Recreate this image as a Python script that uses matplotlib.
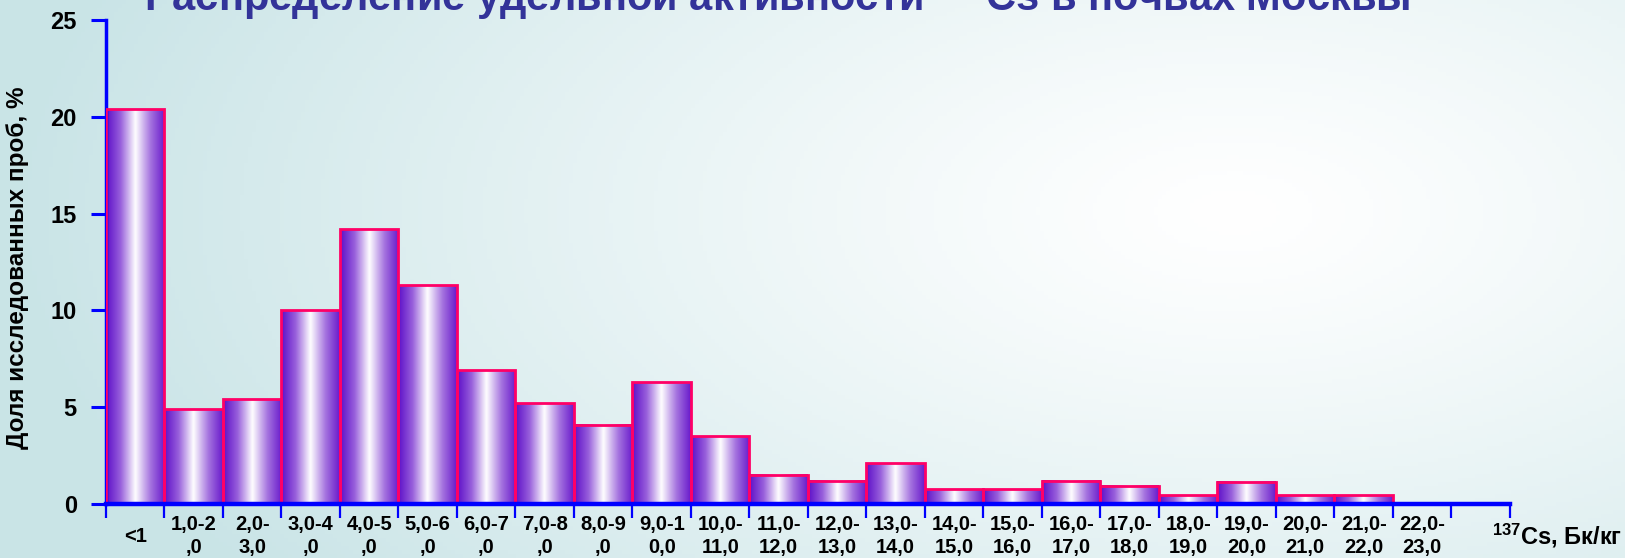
import numpy as np
import matplotlib
matplotlib.use("Agg")
import matplotlib.pyplot as plt
from matplotlib.colors import LinearSegmentedColormap
from matplotlib.patches import Rectangle
from matplotlib.transforms import blended_transform_factory

plt.rcParams['font.family'] = ['Liberation Sans', 'DejaVu Sans']
plt.rcParams['font.weight'] = 'bold'
plt.rcParams['mathtext.default'] = 'regular'

# share of samples (%) per 137Cs activity range, Bq/kg
categories = ["<1", "1,0-2\n,0", "2,0-\n3,0", "3,0-4\n,0", "4,0-5\n,0", "5,0-6\n,0",
              "6,0-7\n,0", "7,0-8\n,0", "8,0-9\n,0", "9,0-1\n0,0", "10,0-\n11,0",
              "11,0-\n12,0", "12,0-\n13,0", "13,0-\n14,0", "14,0-\n15,0", "15,0-\n16,0",
              "16,0-\n17,0", "17,0-\n18,0", "18,0-\n19,0", "19,0-\n20,0", "20,0-\n21,0",
              "21,0-\n22,0", "22,0-\n23,0", ""]
shares = [20.4, 4.9, 5.4, 10.0, 14.2, 11.3, 6.9, 5.2, 4.1, 6.3, 3.5,
          1.5, 1.2, 2.1, 0.75, 0.75, 1.2, 0.95, 0.45, 1.15, 0.45, 0.45, 0.0, 0.0]
yticks = [0, 5, 10, 15, 20, 25]

fig = plt.figure(figsize=(16.25, 5.58), dpi=100)

# soft teal-to-white backdrop
bg = fig.add_axes([0, 0, 1, 1], zorder=-10)
gx, gy = np.meshgrid(np.linspace(0, 1, 400), np.linspace(0, 1, 140))
d = np.sqrt(((gx - 0.76) / 0.75) ** 2 + ((gy - 0.62) / 1.1) ** 2)
t = np.clip(d, 0, 1) ** 1.2
teal = np.array([0.79, 0.895, 0.905])
img = (1 - t)[..., None] * np.ones(3) + t[..., None] * teal
bg.imshow(img, extent=[0, 1, 0, 1], origin='lower', aspect='auto')
bg.axis('off')

ax = fig.add_axes([0.0652, 0.0968, 0.8640, 0.8674])
ax.patch.set_alpha(0)

bar_cmap = LinearSegmentedColormap.from_list(
    "violet", ["#5e10c8", "#9a62dc", "#ffffff", "#a878e0", "#6a1ccc"])
grad = np.linspace(0, 1, 64)[None, :]

for i, v in enumerate(shares):
    if v <= 0:
        continue
    ax.imshow(grad, cmap=bar_cmap, extent=[i, i + 1, 0, v],
              aspect='auto', zorder=2, interpolation='bilinear')
    ax.add_patch(Rectangle((i, 0), 1, v, fill=False, edgecolor='#ff0066',
                           linewidth=2.0, zorder=3))

ax.set_xlim(0, len(categories))
ax.set_ylim(0, 25)

for side in ['top', 'right']:
    ax.spines[side].set_visible(False)
ax.spines['left'].set_color('#0000ff')
ax.spines['left'].set_linewidth(2.5)
ax.spines['bottom'].set_color('#0000ff')
ax.spines['bottom'].set_linewidth(3.2)
ax.spines['bottom'].set_zorder(4)

ax.set_yticks(yticks)
ax.set_yticklabels([str(v) for v in yticks], fontsize=17, fontweight='bold')
ax.tick_params(axis='y', colors='#0000ff', length=11, width=2.2, labelcolor='black', pad=10)
ax.set_xticks(np.arange(len(categories) + 1))
ax.set_xticklabels([])
ax.tick_params(axis='x', colors='#0000ff', length=10, width=1.6)

lbl_tr = blended_transform_factory(ax.transData, fig.transFigure)
for i, lab in enumerate(categories):
    ax.text(i + 0.5, 0.039, lab, transform=lbl_tr, ha='center', va='center',
            fontsize=14.5, fontweight='bold', linespacing=1.3)

fig.text(0.011, 0.521, "Доля исследованных проб, %", rotation=90,
         ha='center', va='center', fontsize=17.5, fontweight='bold')
fig.text(0.998, 0.025, "$^{137}$Cs, Бк/кг", ha='right', va='baseline',
         fontsize=17, fontweight='bold')
fig.text(0.478, 0.980, "Распределение удельной активности $^{137}$Cs в почвах Москвы",
         ha='center', va='baseline', fontsize=30, fontweight='bold', color='#333399')

fig.savefig("out.png", dpi=100)
